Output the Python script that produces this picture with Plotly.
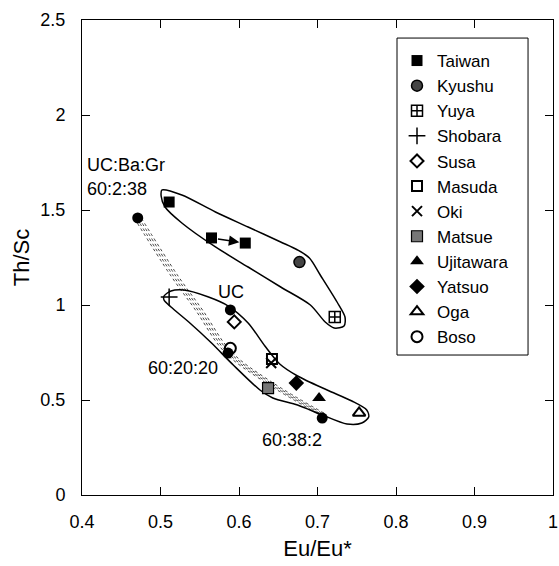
import plotly.graph_objects as go

FONT = "Liberation Sans, Arial, Helvetica, sans-serif"

# ---- data (Eu/Eu*, Th/Sc) ----
taiwan_x = [0.511, 0.565, 0.608]
taiwan_y = [1.542, 1.353, 1.326]
kyushu_x = [0.677]
kyushu_y = [1.226]
yuya_x = [0.722]
yuya_y = [0.937]
shobara_x = [0.511]
shobara_y = [1.042]
susa_x = [0.594]
susa_y = [0.911]
masuda_x = [0.642]
masuda_y = [0.716]
oki_x = [0.641]
oki_y = [0.695]
matsue_x = [0.637]
matsue_y = [0.563]
ujitawara_x = [0.702]
ujitawara_y = [0.511]
yatsuo_x = [0.673]
yatsuo_y = [0.589]
oga_x = [0.753]
oga_y = [0.432]
boso_x = [0.589]
boso_y = [0.772]

# end-members / mixing points (UC, UC:Ba:Gr mixtures)
em_labels = ["UC", "60:2:38", "60:20:20", "60:38:2"]
em_x = [0.589, 0.471, 0.586, 0.706]
em_y = [0.974, 1.458, 0.747, 0.405]

# mixing band (centre line)
mix_x = [0.471, 0.517, 0.549, 0.586, 0.637, 0.706]
mix_y = [1.458, 1.158, 0.974, 0.753, 0.595, 0.426]

# envelopes
env1_x = [0.5020, 0.5272, 0.5700, 0.6116, 0.6531, 0.6746, 0.6897, 0.7035, 0.7249, 0.7350,
          0.7338, 0.7212, 0.7098, 0.6909, 0.6531, 0.6116, 0.5700, 0.5272, 0.5058, 0.5008, 0.5020]
env1_y = [1.6053, 1.5789, 1.4895, 1.4105, 1.3316, 1.2895, 1.2474, 1.1579, 1.0158, 0.9368,
          0.8895, 0.8789, 0.9105, 1.0000, 1.0947, 1.2000, 1.3053, 1.4316, 1.5158, 1.5737, 1.6053]
env2_x = [0.5045, 0.5134, 0.5297, 0.5612, 0.5864, 0.6116, 0.6330, 0.6519, 0.6746, 0.7123,
          0.7438, 0.7627, 0.7652, 0.7564, 0.7375, 0.7060, 0.6746, 0.6431, 0.6267, 0.5927,
          0.5650, 0.5360, 0.5134, 0.5045, 0.5045]
env2_y = [1.0474, 1.0737, 1.0789, 1.0421, 0.9947, 0.9053, 0.7842, 0.6895, 0.6263, 0.5526,
          0.4947, 0.4474, 0.4105, 0.3789, 0.3737, 0.4211, 0.4737, 0.5105, 0.5526, 0.6842,
          0.8000, 0.9105, 0.9895, 1.0263, 1.0474]

x_ticks = [0.4, 0.5, 0.6, 0.7, 0.8, 0.9, 1.0]
x_ticklabels = ["0.4", "0.5", "0.6", "0.7", "0.8", "0.9", "1"]
y_ticks = [0, 0.5, 1, 1.5, 2, 2.5]
y_ticklabels = ["0", "0.5", "1", "1.5", "2", "2.5"]

fig = go.Figure()

# mixing band as stippled parallel lines
for off in (-0.0045, -0.0015, 0.0015, 0.0045):
    fig.add_trace(go.Scatter(x=[v + off for v in mix_x], y=mix_y, mode="lines",
                             line=dict(color="#444", width=1, dash="dot", shape="spline"),
                             showlegend=False, hoverinfo="skip"))

# envelopes
for ex, ey in ((env1_x, env1_y), (env2_x, env2_y)):
    fig.add_trace(go.Scatter(x=ex, y=ey, mode="lines",
                             line=dict(color="black", width=1.5, shape="spline", smoothing=0.8),
                             showlegend=False, hoverinfo="skip"))

# end-member points
fig.add_trace(go.Scatter(x=em_x, y=em_y, mode="markers",
                         marker=dict(symbol="circle", size=11, color="black"),
                         showlegend=False, hoverinfo="skip"))

series = [
    ("Taiwan", taiwan_x, taiwan_y, dict(symbol="square", size=11, color="black")),
    ("Kyushu", kyushu_x, kyushu_y, dict(symbol="circle", size=11, color="#444",
                                        line=dict(color="black", width=1.5))),
    ("Yuya", yuya_x, yuya_y, dict(symbol="square-cross-open", size=11, color="black",
                                  line=dict(width=1.5))),
    ("Shobara", shobara_x, shobara_y, dict(symbol="cross-thin-open", size=12, color="black",
                                           line=dict(width=1.5))),
    ("Susa", susa_x, susa_y, dict(symbol="diamond-open", size=10, color="black",
                                  line=dict(width=2))),
    ("Masuda", masuda_x, masuda_y, dict(symbol="square-open", size=10, color="black",
                                        line=dict(width=2))),
    ("Oki", oki_x, oki_y, dict(symbol="x-thin-open", size=10, color="black",
                               line=dict(width=2))),
    ("Matsue", matsue_x, matsue_y, dict(symbol="square", size=11, color="#777",
                                        line=dict(color="black", width=1.2))),
    ("Ujitawara", ujitawara_x, ujitawara_y, dict(symbol="triangle-up", size=12, color="black")),
    ("Yatsuo", yatsuo_x, yatsuo_y, dict(symbol="diamond", size=12, color="black")),
    ("Oga", oga_x, oga_y, dict(symbol="triangle-up-open", size=11, color="black",
                               line=dict(width=2))),
    ("Boso", boso_x, boso_y, dict(symbol="circle-open", size=11, color="black",
                                  line=dict(width=2))),
]
for name, xs, ys, mk in series:
    fig.add_trace(go.Scatter(x=xs, y=ys, mode="markers", name=name, marker=mk,
                             legendgroup=name))

annotations = [
    dict(x=taiwan_x[2], y=taiwan_y[2], ax=taiwan_x[1], ay=taiwan_y[1], xref="x", yref="y",
         axref="x", ayref="y", showarrow=True, arrowhead=2, arrowsize=1.4, arrowwidth=1.5,
         standoff=6, startstandoff=5, arrowcolor="black", text=""),
    dict(x=0.4038, y=1.737, xref="x", yref="y", text="UC:Ba:Gr", showarrow=False,
         xanchor="left", yanchor="middle"),
    dict(x=0.4038, y=1.61, xref="x", yref="y", text="60:2:38", showarrow=False,
         xanchor="left", yanchor="middle"),
    dict(x=0.590, y=1.068, xref="x", yref="y", text="UC", showarrow=False,
         xanchor="center", yanchor="middle"),
    dict(x=0.576, y=0.668, xref="x", yref="y", text="60:20:20", showarrow=False,
         xanchor="right", yanchor="middle"),
    dict(x=0.667, y=0.289, xref="x", yref="y", text="60:38:2", showarrow=False,
         xanchor="center", yanchor="middle"),
]

# legend frame (paper coords of plot area: 82..553 px wide, 20..495 px tall)
legend_box = dict(type="rect", xref="paper", yref="paper",
                  x0=0.6688, x1=0.947, y0=0.2947, y1=0.962,
                  line=dict(color="black", width=1), fillcolor="white", layer="above")

fig.update_layout(
    width=559, height=566,
    margin=dict(l=82, r=6, t=20, b=71, autoexpand=False),
    paper_bgcolor="white", plot_bgcolor="white",
    font=dict(family=FONT, size=18, color="black"),
    annotations=annotations,
    shapes=[legend_box],
    showlegend=True,
    legend=dict(x=0.6688, y=0.9516, xanchor="left", yanchor="top",
                borderwidth=0, bgcolor="rgba(0,0,0,0)",
                font=dict(family=FONT, size=17, color="black"),
                entrywidth=90, tracegroupgap=0),
)
fig.update_xaxes(range=[0.4, 1.0], tickvals=x_ticks, ticktext=x_ticklabels,
                 showgrid=False, zeroline=False, showline=True, linecolor="black",
                 linewidth=1, mirror="ticks", ticks="inside", ticklen=8, tickcolor="black",
                 ticklabelstandoff=10, ticklabeloverflow="allow", automargin=False,
                 title=dict(text="Eu/Eu*", standoff=10))
fig.update_yaxes(range=[0, 2.5], tickvals=y_ticks, ticktext=y_ticklabels,
                 showgrid=False, zeroline=False, showline=True, linecolor="black",
                 linewidth=1, mirror="ticks", ticks="inside", ticklen=8, tickcolor="black",
                 ticklabelstandoff=12, ticklabeloverflow="allow", automargin=False,
                 title=dict(text="Th/Sc", standoff=4))

fig.write_html("out.html")
